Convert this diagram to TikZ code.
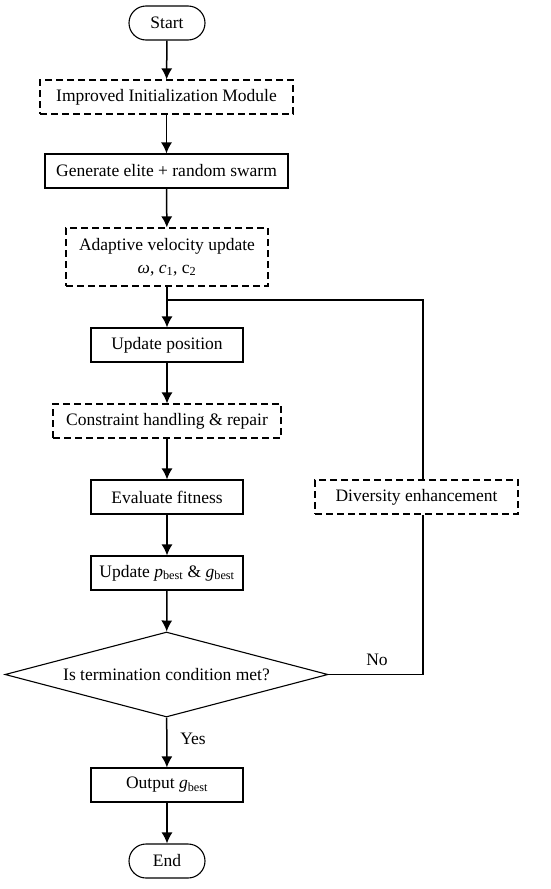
\documentclass[tikz,border=0pt]{standalone}
\usepackage{fontspec}
\setmainfont{Liberation Serif}
\usetikzlibrary{arrows.meta,shapes.geometric,positioning}

\begin{document}
\begin{tikzpicture}[x=1pt,y=-1pt,>={Latex[length=11pt,width=11pt]},
  font=\fontsize{17.5}{21}\selectfont,
  box/.style={draw,line width=1.1pt,inner sep=0pt,minimum height=34pt},
  dbox/.style={box,dash pattern=on 7pt off 4pt},
  term/.style={box,rounded corners=17pt,minimum width=76pt},
  flow/.style={->,line width=1.5pt},
  back/.style={line width=1.1pt}]
\useasboundingbox (0,0) rectangle (550,889);
% main column
\node[term] (start) at (167,23) {Start};
\node[dbox,minimum width=253pt] (init) at (166.5,97) {Improved Initialization Module};
\node[box,minimum width=243pt] (swarm) at (166.5,171) {Generate elite + random swarm};
\node[dbox,minimum width=202pt,minimum height=58pt,align=center] (vel) at (167,257)
  {Adaptive velocity update\\[2pt] \textit{ω}, \textit{c}\textsubscript{1}, c\textsubscript{2}};
\node[box,minimum width=152pt] (pos) at (167,345) {Update position};
\node[dbox,minimum width=228pt] (repair) at (167,421) {Constraint handling \& repair};
\node[box,minimum width=152pt] (fit) at (167,497) {Evaluate fitness};
\node[box,minimum width=152pt] (best) at (167,573)
  {Update \textit{p}\textsubscript{best} \& \textit{g}\textsubscript{best}};
\node[diamond,draw,line width=1.1pt,inner sep=0pt,shape aspect=3.8,
  minimum width=323pt,minimum height=85pt] (stop) at (166.5,674.5) {Is termination condition met?};
\node[box,minimum width=152pt] (out) at (167,785) {Output \textit{g}\textsubscript{best}};
\node[term] (end) at (167,861) {End};
% feedback branch
\node[dbox,minimum width=203pt] (div) at (416.5,497) {Diversity enhancement};
\coordinate (jn) at (167,300);
\coordinate (rail) at (423,674.5);
\node (no) at (377,660) {No};
\node (yes) at (193,739) {Yes};

\draw[flow] (start) -- (init);
\draw[flow] (init) -- (swarm);
\draw[flow] (swarm) -- (vel);
\draw[flow] (vel) -- (pos);
\draw[flow] (pos) -- (repair);
\draw[flow] (repair) -- (fit);
\draw[flow] (fit) -- (best);
\draw[flow] (best) -- (stop);
\draw[flow] (stop) -- (out);
\draw[flow] (out) -- (end);
\draw[back] (stop.east) -- (rail) -- (rail |- div.south);
\draw[back] (rail |- div.north) |- (jn);
\end{tikzpicture}
\end{document}
